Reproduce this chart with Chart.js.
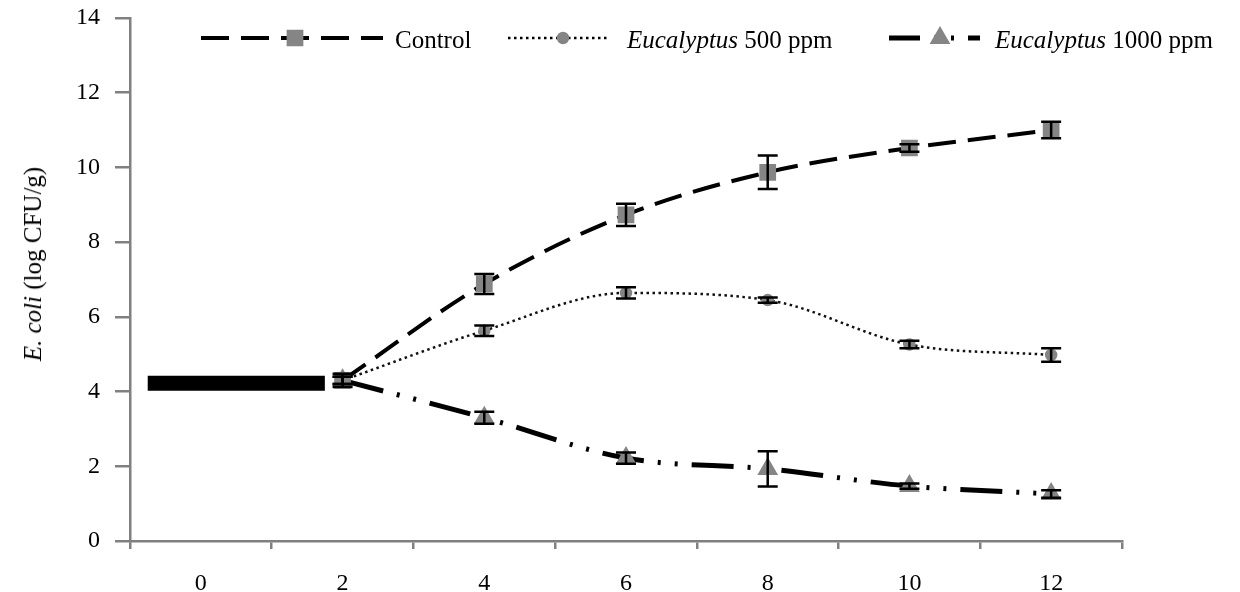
<!DOCTYPE html>
<html>
<head>
<meta charset="utf-8">
<script src="https://cdn.jsdelivr.net/npm/chart.js@4.4.1/dist/chart.umd.min.js"></script>
<style>
  body { margin: 0; background: #fff; }
  #wrap { position: relative; width: 1240px; height: 592px; font-family: "Liberation Serif", "Times New Roman", serif; color: #000; }
  #c { display: block; }
  .lg { position: absolute; top: 27px; font-size: 25px; line-height: 25px; white-space: nowrap; }
  #ytitle { position: absolute; left: 33px; top: 264px; font-size: 25px; white-space: nowrap; transform: translate(-50%, -50%) rotate(-90deg); }
</style>
</head>
<body>
<div id="wrap">
  <canvas id="c" width="1240" height="592"></canvas>
  <div class="lg" style="left:395px">Control</div>
  <div class="lg" style="left:627px"><i>Eucalyptus</i> 500 ppm</div>
  <div class="lg" style="left:995px"><i>Eucalyptus</i> 1000 ppm</div>
  <div id="ytitle"><i>E. coli</i> (log CFU/g)</div>
</div>
<script>
// storage days
const days = [2, 4, 6, 8, 10, 12];
const xLabels = [0, 2, 4, 6, 8, 10, 12];

// initial count bar (before day 2)
const initialX = [-0.75, 1.75];
const initialY = [4.22, 4.22];

// log CFU/g, mean and error
const controlMean = [4.3, 6.88, 8.73, 9.87, 10.52, 11.0];
const controlErr = [0.18, 0.27, 0.3, 0.45, 0.1, 0.22];
const euc500Mean = [4.3, 5.63, 6.64, 6.45, 5.26, 4.98];
const euc500Err = [0.1, 0.14, 0.15, 0.07, 0.1, 0.18];
const euc1000Mean = [4.3, 3.3, 2.22, 1.93, 1.47, 1.26];
const euc1000Err = [0.1, 0.16, 0.15, 0.47, 0.07, 0.1];

const pts = (xs, ys) => xs.map((x, i) => ({ x: x, y: ys[i] }));
const GREY = '#858585';

const errorBars = {
  id: 'errorBars',
  afterDatasetsDraw(chart) {
    const ctx = chart.ctx;
    const xs = chart.scales.x, ys = chart.scales.y;
    chart.data.datasets.forEach(ds => {
      if (!ds.errors) return;
      ctx.save();
      ctx.strokeStyle = '#000';
      ctx.lineWidth = 2.5;
      ds.data.forEach((p, i) => {
        const e = ds.errors[i];
        const px = xs.getPixelForValue(p.x);
        const top = ys.getPixelForValue(p.y + e);
        const bot = ys.getPixelForValue(p.y - e);
        ctx.beginPath();
        ctx.moveTo(px, top); ctx.lineTo(px, bot);
        ctx.moveTo(px - 10, top); ctx.lineTo(px + 10, top);
        ctx.moveTo(px - 10, bot); ctx.lineTo(px + 10, bot);
        ctx.stroke();
      });
      ctx.restore();
    });
  }
};

// legend keys (line samples), text is html
const legendKeys = [
  { ds: 1, x0: 201, x1: 383, mx: 295, offset: 0 },
  { ds: 2, x0: 508, x1: 608, mx: 563, offset: 0 },
  { ds: 3, x0: 889, x1: 980, mx: 940, offset: 11 }
];
const legendSamples = {
  id: 'legendSamples',
  afterDraw(chart) {
    const ctx = chart.ctx;
    const y = 38;
    legendKeys.forEach(k => {
      const ds = chart.data.datasets[k.ds];
      ctx.save();
      ctx.strokeStyle = '#000';
      ctx.lineWidth = ds.borderWidth;
      ctx.setLineDash(ds.borderDash || []);
      ctx.lineDashOffset = k.offset;
      ctx.beginPath();
      ctx.moveTo(k.x0, y); ctx.lineTo(k.x1, y);
      ctx.stroke();
      ctx.setLineDash([]);
      ctx.fillStyle = GREY;
      ctx.strokeStyle = GREY;
      Chart.helpers.drawPoint(ctx, { pointStyle: ds.pointStyle, radius: ds.pointRadius, rotation: 0, borderWidth: 1 }, k.mx, y);
      ctx.restore();
    });
  }
};

const data = {
  datasets: [
    {
      label: 'Initial',
      data: pts(initialX, initialY),
      borderColor: '#000',
      borderWidth: 15,
      borderCapStyle: 'butt',
      pointRadius: 0
    },
    {
      label: 'Control',
      data: pts(days, controlMean),
      errors: controlErr,
      borderColor: '#000',
      borderWidth: 4,
      borderDash: [28, 12],
      cubicInterpolationMode: 'monotone',
      pointStyle: 'rect',
      pointRadius: 9,
      pointBackgroundColor: GREY,
      pointBorderColor: GREY
    },
    {
      label: 'Eucalyptus 500 ppm',
      data: pts(days, euc500Mean),
      errors: euc500Err,
      borderColor: '#111',
      borderWidth: 2.5,
      borderDash: [2.5, 3.5],
      cubicInterpolationMode: 'monotone',
      pointStyle: 'circle',
      pointRadius: 5,
      pointBackgroundColor: GREY,
      pointBorderColor: GREY
    },
    {
      label: 'Eucalyptus 1000 ppm',
      data: pts(days, euc1000Mean),
      errors: euc1000Err,
      borderColor: '#000',
      borderWidth: 5,
      borderDash: [42, 14, 3, 14, 3, 14],
      cubicInterpolationMode: 'monotone',
      pointStyle: 'triangle',
      pointRadius: 7,
      pointBackgroundColor: GREY,
      pointBorderColor: GREY
    }
  ]
};

const tickFont = { family: '"Liberation Serif", "Times New Roman", serif', size: 24 };

const config = {
  type: 'line',
  data: data,
  options: {
    responsive: false,
    animation: false,
    layout: { padding: { top: 18, right: 118, left: 0, bottom: 0 } },
    plugins: { legend: { display: false }, tooltip: { enabled: false } },
    scales: {
      x: {
        type: 'linear',
        min: -1,
        max: 13,
        afterFit: s => { s.height = 51; s.paddingLeft = 0; s.paddingRight = 0; },
        border: { display: true, color: '#808080', width: 2.5 },
        grid: {
          drawOnChartArea: false,
          tickLength: 8,
          lineWidth: 2.5,
          color: c => (c.tick && Math.abs(c.tick.value % 2) === 1) ? '#808080' : 'rgba(0,0,0,0)'
        },
        ticks: {
          stepSize: 1,
          autoSkip: false,
          maxRotation: 0,
          padding: 20,
          color: '#000',
          font: tickFont,
          callback: v => xLabels.includes(v) ? String(v) : ''
        }
      },
      y: {
        min: 0,
        max: 14,
        afterFit: s => { s.width = 130; s.paddingTop = 0; s.paddingBottom = 0; },
        border: { display: true, color: '#808080', width: 2.5 },
        grid: { drawOnChartArea: false, tickLength: 15, lineWidth: 2.5, color: '#808080' },
        ticks: { stepSize: 2, padding: 15, color: '#000', font: tickFont }
      }
    }
  },
  plugins: [errorBars, legendSamples]
};

const eColiChart = new Chart(document.getElementById('c'), config);
</script>
</body>
</html>
